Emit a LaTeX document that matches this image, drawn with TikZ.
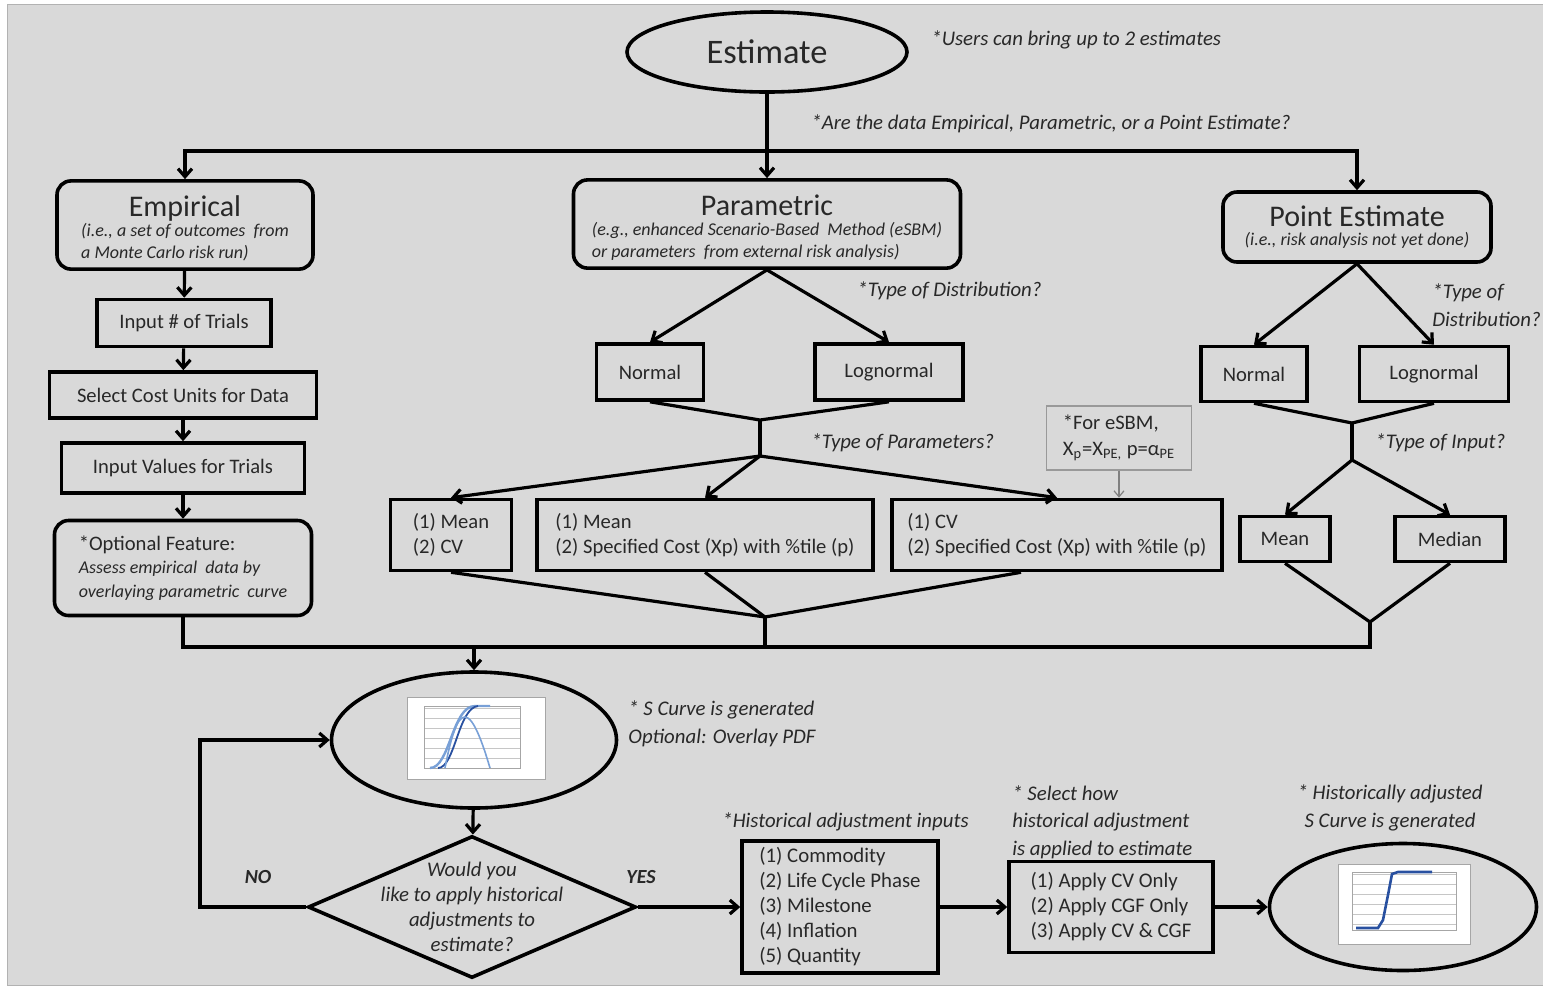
\documentclass[tikz,border=0pt]{standalone}
\usepackage{fontspec}
\setmainfont{Carlito}
\usetikzlibrary{positioning,arrows.meta,shapes.geometric}
\definecolor{bggray}{RGB}{217,217,217}
\definecolor{txtgray}{RGB}{40,40,40}
\definecolor{chartblue}{RGB}{40,80,160}
\definecolor{chartlight}{RGB}{120,160,215}

\begin{document}
\begin{tikzpicture}[x=0.5pt,y=-0.5pt,
    every node/.style={inner sep=2pt,text=txtgray,font=\fontsize{10.3}{12.8}\selectfont},
    box/.style={draw=black,line width=1.8pt,fill=bggray,align=center},
    rbox/.style={box,rounded corners=7pt},
    oval/.style={box,ellipse,inner sep=0pt},
    note/.style={font=\fontsize{10.4}{13.75}\selectfont\itshape,align=left,anchor=west},
    link/.style={line width=1.6pt},
    arr/.style={link,-{Straight Barb[length=4pt,width=7pt]}}]
  \useasboundingbox (0,0) rectangle (1543,987);
  \fill[white] (0,0) rectangle (1543,987);
  \filldraw[fill=bggray,draw=gray!60] (7,4) rectangle (1543,985);

  % top
  \node[oval,minimum width=140pt,minimum height=40pt,font=\fontsize{17.2}{20}\selectfont] (est) at (767,52) {Estimate};
  \node[note] (n1) at (927,40) {*Users can bring up to 2 estimates};
  \node[note] (n2) at (807,124) {*Are the data Empirical, Parametric, or a Point Estimate?};

  \node[rbox,minimum width=128pt,minimum height=43pt] (emp) at (185,225)
    {\rule{0pt}{16pt}{\fontsize{15}{15}\selectfont Empirical}\\[-3pt]
     {\fontsize{9}{11}\selectfont\itshape\begin{tabular}[t]{@{}l@{}}(i.e., a set of outcomes\ \ from\\ a Monte Carlo risk run)\end{tabular}}};
  \node[rbox,minimum width=193.5pt,minimum height=42pt] (par) at (767,224)
    {\rule{0pt}{16pt}{\fontsize{15}{15}\selectfont Parametric}\\[-3pt]
     {\fontsize{9}{11}\selectfont\itshape\begin{tabular}[t]{@{}l@{}}(e.g., enhanced Scenario-Based\ \ Method (eSBM)\\ or parameters\ \ from external risk analysis)\end{tabular}}};
  \node[rbox,minimum width=134pt,minimum height=35pt] (pe) at (1357,227)
    {{\fontsize{15}{15}\selectfont Point Estimate}\\[-3pt]
     {\fontsize{9}{10}\selectfont\itshape (i.e., risk analysis not yet done)}};

  \coordinate (split) at (767,151);
  \draw[arr] (est) -- (par);
  \draw[arr] (split) -| (emp);
  \draw[arr] (split) -| (pe);

  % empirical
  \node[box,minimum width=87pt,minimum height=23.5pt] (trials) at (184,323) {Input \# of Trials};
  \node[box,minimum width=133.5pt,minimum height=23pt] (units) at (183,395) {Select Cost Units for Data};
  \node[box,minimum width=121.5pt,minimum height=25pt] (vals) at (183,468) {Input Values for Trials};
  \node[rbox,minimum width=128.5pt,minimum height=47.5pt,align=left,font=\fontsize{10.3}{11.75}\selectfont] (opt) at (183,568)
    {*Optional Feature:\\
     {\fontsize{9}{11.75}\selectfont\itshape Assess empirical\ \ data by}\\
     {\fontsize{9}{11.75}\selectfont\itshape overlaying parametric\ \ curve}};
  \foreach \a/\b in {emp/trials,trials/units,units/vals,vals/opt}
    \draw[arr] (\a) -- (\b);

  % parametric
  \node[box,minimum width=53.5pt,minimum height=28pt] (pnorm) at (650,372) {Normal};
  \node[box,minimum width=74pt,minimum height=28pt] (plog) at (889,372) {Lognormal};
  \node[note] (n3) at (853,291) {*Type of Distribution?};
  \draw[arr] (par.south) -- (pnorm.north);
  \draw[arr] (par.south) -- (plog.north);
  \coordinate (pj) at (760,420);
  \coordinate (pk) at (760,456);
  \draw[link] (pnorm.south) -- (pj) -- (plog.south);
  \draw[link] (pj) -- (pk);
  \node[note] (n4) at (807,443) {*Type of Parameters?};

  \node[box,minimum width=60.5pt,minimum height=35.5pt,align=left] (mcv) at (451,535) {(1) Mean\\(2) CV};
  \node[box,minimum width=168pt,minimum height=35.5pt,align=left] (mxp) at (705,535)
    {(1) Mean\\(2) Specified Cost (Xp) with \%tile (p)};
  \node[box,minimum width=165pt,minimum height=35.5pt,align=left] (cxp) at (1057,535)
    {(1) CV\\(2) Specified Cost (Xp) with \%tile (p)};
  \node[draw=gray!80,line width=0.6pt,fill=bggray,align=left,minimum width=72.5pt,minimum height=32pt] (esbm) at (1119,438)
    {*For eSBM,\\X\textsubscript{p}=X\textsubscript{PE,} p=α\textsubscript{PE}};
  \foreach \b in {mcv,mxp,cxp}
    \draw[arr] (pk) -- (\b.north);
  \draw[gray,line width=0.6pt,-{Straight Barb[length=3pt,width=5pt]}] (esbm) -- (esbm |- cxp.north);
  \coordinate (pm) at (765,617);
  \draw[link] (mcv.south) -- (pm);
  \draw[link] (mxp.south) -- (pm);
  \draw[link] ([xshift=-18pt]cxp.south) -- (pm);

  % point estimate
  \node[box,minimum width=53pt,minimum height=27.5pt] (enorm) at (1254,374) {Normal};
  \node[box,minimum width=74.5pt,minimum height=27.5pt] (elog) at (1434,374) {Lognormal};
  \node[note] (n5) at (1428,305) {*Type of\\Distribution?};
  \draw[arr] (pe.south) -- (enorm.north);
  \draw[arr] (pe.south) -- (elog.north);
  \coordinate (ej) at (1352,423);
  \coordinate (ek) at (1352,460);
  \draw[link] (enorm.south) -- (ej) -- (elog.south);
  \draw[link] (ej) -- (ek);
  \node[note] (n6) at (1371,443) {*Type of Input?};
  \node[box,minimum width=45pt,minimum height=22.5pt] (emean) at (1285,539) {Mean};
  \node[box,minimum width=55pt,minimum height=22.5pt] (emed) at (1450,539) {Median};
  \draw[arr] (ek) -- (emean.north);
  \draw[arr] (ek) -- (emed.north);
  \coordinate (em) at (1370,622);
  \draw[link] (emean.south) -- (em) -- (emed.south);

  % collector
  \coordinate (bus) at (1370,647);
  \draw[link] (opt) |- (bus) -- (em);
  \draw[link] (pm) -- (pm |- bus);

  % s curve
  \node[oval,minimum width=142.5pt,minimum height=68pt] (scurve) at (474,740) {};
  \node[note] (n7) at (624,724) {* S Curve is generated\\Optional: Overlay PDF};
  \draw[arr] (scurve |- bus) -- (scurve);
  \filldraw[fill=white,draw=gray!70,line width=0.4pt] (407,697) rectangle (545,779);
  \foreach \y in {708,718,728,738,748,758,768}
    \draw[gray!45,line width=0.3pt] (424,\y) -- (520,\y);
  \draw[gray!70,line width=0.3pt] (424,706) rectangle (520,768);
  \draw[chartlight,line width=1.2pt] (430,768) .. controls (450,768) and (452,706) .. (475,706) -- (490,706);
  \draw[chartblue,line width=0.9pt] (438,768) .. controls (455,768) and (458,708) .. (478,706);
  \draw[chartlight,line width=0.8pt] (445,768) .. controls (458,700) and (470,700) .. (490,768);

  \node[diamond,draw=black,line width=1.8pt,fill=bggray,minimum width=164pt,minimum height=71pt,inner sep=0pt] (ask) at (472,907) {};
  \node[font=\fontsize{10.4}{12.5}\selectfont\itshape,align=center] (asktxt) at (ask) {Would you\\like to apply historical\\adjustments to\\estimate?};
  \draw[arr] (scurve) -- (ask);
  \coordinate (loop) at (200,907);
  \draw[arr] (ask.west) -- (loop) |- (scurve.west);
  \node[font=\fontsize{10}{11}\selectfont\bfseries\itshape] (no) at (258,877) {NO};
  \node[font=\fontsize{10}{11}\selectfont\bfseries\itshape] (yes) at (641,877) {YES};

  % historical adjustment
  \node[box,minimum width=98pt,minimum height=66pt,align=left,font=\fontsize{10.4}{12.5}\selectfont] (hist) at (840,907)
    {(1) Commodity\\(2) Life Cycle Phase\\(3) Milestone\\(4) Inflation\\(5) Quantity};
  \node[note] (n8) at (718,822) {*Historical adjustment inputs};
  \node[box,minimum width=102pt,minimum height=45.5pt,align=left,font=\fontsize{10.4}{12.5}\selectfont] (apply) at (1111,907)
    {(1) Apply CV Only\\(2) Apply CGF Only\\(3) Apply CV \& CGF};
  \node[note] (n9) at (1008,822) {* Select how\\historical adjustment\\is applied to estimate};
  \node[oval,minimum width=133.5pt,minimum height=63.5pt] (final) at (1403,907) {};
  \node[note,anchor=center,align=center] (n10) at (1390,808) {* Historically adjusted\\S Curve is generated};
  \draw[arr] (ask.east) -- (hist.west);
  \draw[arr] (hist) -- (apply);
  \draw[arr] (apply) -- (final);
  \filldraw[fill=white,draw=gray!70,line width=0.4pt] (1338,864) rectangle (1470,944);
  \foreach \y in {874,884,894,904,914,924}
    \draw[gray!45,line width=0.3pt] (1352,\y) -- (1456,\y);
  \draw[gray!70,line width=0.3pt] (1352,872) rectangle (1456,930);
  \draw[chartblue,line width=1.3pt] (1356,928) -- (1378,928) -- (1383,920) -- (1388,895) -- (1392,874) -- (1398,872) -- (1432,872);
\end{tikzpicture}
\end{document}
